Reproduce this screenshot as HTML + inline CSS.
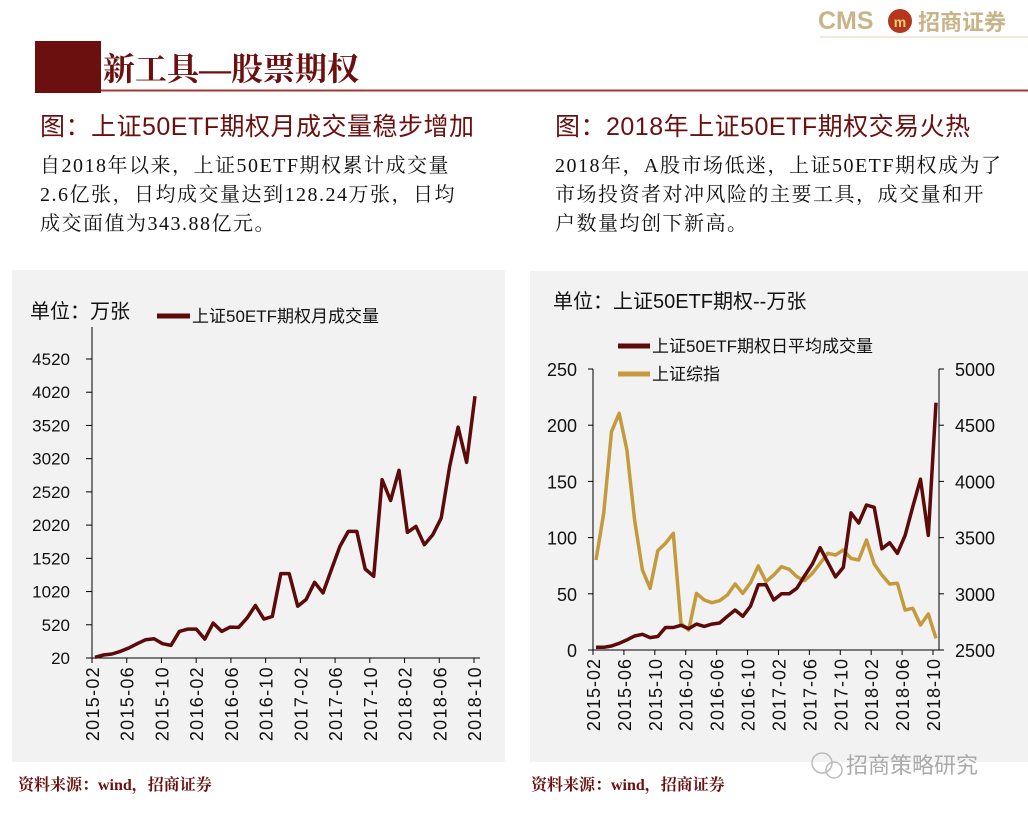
<!DOCTYPE html>
<html><head><meta charset="utf-8">
<style>
body{margin:0;background:#fff;width:1028px;height:808px;overflow:hidden;font-family:"Liberation Sans","Noto Sans CJK SC",sans-serif;}
svg text{font-family:"Liberation Sans","Noto Sans CJK SC",sans-serif;}
svg text.serif,.serif text{font-family:"Liberation Serif","Noto Serif CJK SC",serif;}
</style></head>
<body>
<svg width="1028" height="808" xmlns="http://www.w3.org/2000/svg">
<g>
<text x="818" y="29" font-size="25" fill="#c9b48a" font-weight="bold">CMS</text>
<circle cx="900" cy="21" r="12" fill="#b4361c"/>
<text x="900" y="27" font-size="14" fill="#f5d070" text-anchor="middle" font-weight="bold">m</text>
<text x="918" y="30" font-size="22" fill="#c9b48a" font-weight="bold">招商证券</text>
<line x1="820" y1="37" x2="1028" y2="37" stroke="#e0d3b8" stroke-width="1"/>
</g>
<rect x="35" y="41" width="66" height="52" fill="#6b0f0f"/>
<text x="103" y="80" font-size="32" font-weight="bold" fill="#6b0f0f" class="serif">新工具—股票期权</text>
<line x1="101" y1="90.5" x2="1028" y2="90.5" stroke="#a33a3a" stroke-width="2"/>
<text x="40" y="135" font-size="25" letter-spacing="0.5" fill="#6b0f0f">图：上证50ETF期权月成交量稳步增加</text>
<text x="555" y="135" font-size="25" letter-spacing="0.5" fill="#6b0f0f">图：2018年上证50ETF期权交易火热</text>
<g class="serif" font-size="20" letter-spacing="1.5" fill="#111">
<text x="40" y="172">自2018年以来，上证50ETF期权累计成交量</text>
<text x="40" y="201">2.6亿张，日均成交量达到128.24万张，日均</text>
<text x="40" y="230">成交面值为343.88亿元。</text>
</g>
<g class="serif" font-size="20" letter-spacing="1.5" fill="#111">
<text x="555" y="172">2018年，A股市场低迷，上证50ETF期权成为了</text>
<text x="555" y="201">市场投资者对冲风险的主要工具，成交量和开</text>
<text x="555" y="230">户数量均创下新高。</text>
</g>
<rect x="12" y="270" width="493" height="492" fill="#f2f2f2"/>
<rect x="530" y="271" width="498" height="491" fill="#f2f2f2"/>
<g id="left"></g>
<g id="right"></g>
<text x="18" y="790" font-size="16" font-weight="bold" fill="#6b0f0f" class="serif">资料来源：wind，招商证券</text>
<text x="531" y="790" font-size="16" font-weight="bold" fill="#6b0f0f" class="serif">资料来源：wind，招商证券</text>
<g>
<circle cx="822" cy="763" r="10" fill="none" stroke="#bbb" stroke-width="1.5"/>
<circle cx="834" cy="770" r="8" fill="none" stroke="#bbb" stroke-width="1.5"/>
<text x="846" y="773" font-size="22" fill="#aaa">招商策略研究</text>
</g>
</svg>
<script>
const monthLabels=["2015-02","2015-06","2015-10","2016-02","2016-06","2016-10","2017-02","2017-06","2017-10","2018-02","2018-06","2018-10"];
const monthlyVolume=[30,65,80,120,170,235,295,310,235,210,420,455,455,305,545,420,485,480,620,810,605,645,1290,1290,800,900,1160,1000,1350,1700,1925,1925,1360,1250,2705,2390,2845,1910,2000,1725,1875,2125,2905,3495,2965,3960];
const leftTicks=[20,520,1020,1520,2020,2520,3020,3520,4020,4520];
const dailyVolume=[2.4,2.4,3.6,6,9,12.5,14,11,12,20,20,22,19,23,21,23,24,30,35.6,30,39,58,58,44.5,50,50,55,66,76.5,91,78,65,73.5,122,113,129,127,90,95.5,86,102,127.5,152,102,220];
const sseIndex=[3301,3716,4442,4606,4279,3657,3212,3049,3384,3449,3538,2737,2678,3004,2945,2921,2939,2989,3087,3004,3099,3247,3108,3167,3241,3218,3152,3117,3182,3271,3360,3345,3390,3315,3301,3479,3265,3167,3087,3093,2856,2871,2722,2820,2604];
const rightLeftTicks=[0,50,100,150,200,250];
const rightRightTicks=[2500,3000,3500,4000,4500,5000];

const NS="http://www.w3.org/2000/svg";
function mk(p,tag,attrs,txt){const e=document.createElementNS(NS,tag);for(const k in attrs)e.setAttribute(k,attrs[k]);if(txt!=null)e.textContent=txt;p.appendChild(e);return e;}

// LEFT CHART
(function(){
const g=document.getElementById('left');
const y0=658,y1=359,vmin=20,vmax=4520;
const yS=v=>y0-(v-vmin)/(vmax-vmin)*(y0-y1);
const xFirst=95,xLast=475;
const xS=i=>xFirst+i*(xLast-xFirst)/(monthlyVolume.length-1);
const axisX=92;
let l=mk(g,'line',{x1:axisX,y1:327,x2:axisX,y2:y0,stroke:'#000','stroke-width':1});

l=mk(g,'line',{x1:86,y1:y0,x2:480,y2:y0,stroke:'#000','stroke-width':1});

leftTicks.forEach(v=>{
 const y=yS(v);
 mk(g,'line',{x1:86,y1:y,x2:axisX,y2:y,stroke:'#000'});
 const t=mk(g,'text',{x:70,y:y+6,'font-size':17,'text-anchor':'end',fill:'#111'},v);
 
});
monthLabels.forEach((m,k)=>{
 const x=92+k*(474-92)/11;
 mk(g,'line',{x1:x,y1:y0,x2:x,y2:y0+5,stroke:'#000'});
 const t=mk(g,'text',{x:0,y:0,'font-size':18,'letter-spacing':1.3,'text-anchor':'end',fill:'#111',transform:`translate(${x+7},${y0+8}) rotate(-90)`},m);
 
});
const pts=monthlyVolume.map((v,i)=>xS(i).toFixed(1)+','+yS(v).toFixed(1)).join(' ');
const pl=mk(g,'polyline',{points:pts,fill:'none',stroke:'#5c0a0a','stroke-width':3.5,'stroke-linejoin':'round'});

let t=mk(g,'text',{x:30,y:318,'font-size':20,fill:'#111'},'单位：万张');

mk(g,'line',{x1:157,y1:316,x2:190,y2:316,stroke:'#5c0a0a','stroke-width':5});
t=mk(g,'text',{x:192,y:322,'font-size':17,fill:'#111'},'上证50ETF期权月成交量');

})();

// RIGHT CHART
(function(){
const g=document.getElementById('right');
const y0=650,y1=369;
const yL=v=>y0-(v-0)/250*(y0-y1);
const yR=v=>y0-(v-2500)/2500*(y0-y1);
const xFirst=596,xLast=936;
const xS=i=>xFirst+i*(xLast-xFirst)/(dailyVolume.length-1);
const ax=593,axR=939;
let l=mk(g,'line',{x1:ax,y1:y1,x2:ax,y2:y0,stroke:'#000'});

l=mk(g,'line',{x1:axR,y1:y1,x2:axR,y2:y0,stroke:'#000'});

l=mk(g,'line',{x1:ax,y1:y0,x2:axR,y2:y0,stroke:'#000'});

rightLeftTicks.forEach(v=>{
 const y=yL(v);
 mk(g,'line',{x1:ax-5,y1:y,x2:ax,y2:y,stroke:'#000'});
 const t=mk(g,'text',{x:577,y:y+7,'font-size':18,'text-anchor':'end',fill:'#111'},v);
 
});
rightRightTicks.forEach(v=>{
 const y=yR(v);
 mk(g,'line',{x1:axR,y1:y,x2:axR+5,y2:y,stroke:'#000'});
 const t=mk(g,'text',{x:955,y:y+7,'font-size':18,fill:'#111'},v);
 
});
monthLabels.forEach((m,k)=>{
 const x=593+k*(933-593)/11;
 mk(g,'line',{x1:x,y1:y0,x2:x,y2:y0+5,stroke:'#000'});
 const t=mk(g,'text',{x:0,y:0,'font-size':18,'letter-spacing':1,'text-anchor':'end',fill:'#111',transform:`translate(${x+7},${y0+8}) rotate(-90)`},m);
 
});
let pl=mk(g,'polyline',{points:sseIndex.map((v,i)=>xS(i).toFixed(1)+','+yR(v).toFixed(1)).join(' '),fill:'none',stroke:'#c49a3c','stroke-width':3.5,'stroke-linejoin':'round'});

pl=mk(g,'polyline',{points:dailyVolume.map((v,i)=>xS(i).toFixed(1)+','+yL(v).toFixed(1)).join(' '),fill:'none',stroke:'#5c0a0a','stroke-width':3.5,'stroke-linejoin':'round'});

let t=mk(g,'text',{x:553,y:308,'font-size':20,fill:'#111'},'单位：上证50ETF期权--万张');

mk(g,'line',{x1:618,y1:346,x2:650,y2:346,stroke:'#5c0a0a','stroke-width':5});
t=mk(g,'text',{x:652,y:352,'font-size':17,fill:'#111'},'上证50ETF期权日平均成交量');

mk(g,'line',{x1:618,y1:374,x2:650,y2:374,stroke:'#c49a3c','stroke-width':5});
t=mk(g,'text',{x:652,y:380,'font-size':17,fill:'#111'},'上证综指');

})();
</script>
</body></html>
